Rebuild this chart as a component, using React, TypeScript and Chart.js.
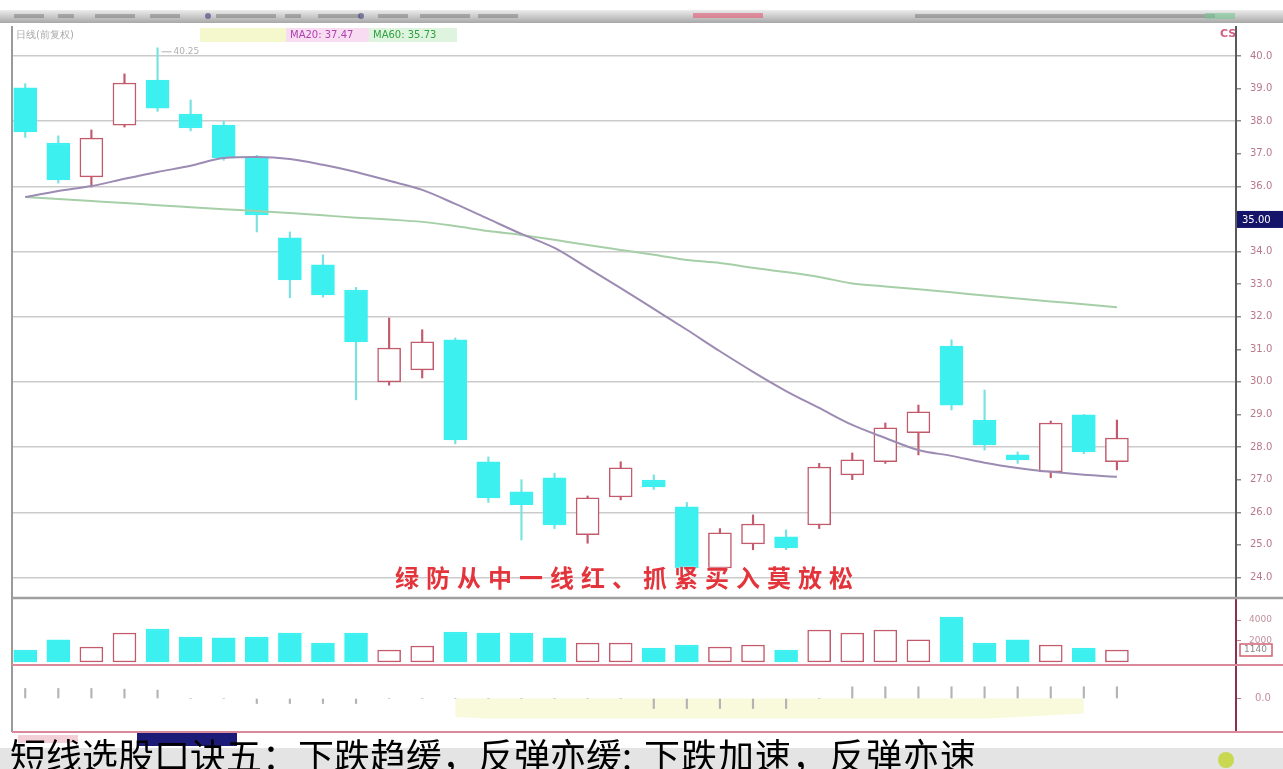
import React, { useEffect, useRef } from "react";
import { Chart, registerables } from "chart.js";

Chart.register(...registerables);

// ---- data ----
const OPEN = [39.02, 37.33, 36.29, 37.88, 39.26, 38.22, 37.88, 36.90, 34.42, 33.59, 32.82, 30.00, 30.37, 31.29, 27.55, 26.63, 27.06, 25.31, 26.47, 26.99, 26.17, 24.29, 25.03, 25.25, 25.61, 27.15, 27.55, 28.44, 31.10, 28.83, 27.76, 27.24, 28.99, 27.55];
const CLOSE = [37.67, 36.20, 37.48, 39.17, 38.40, 37.79, 36.87, 35.12, 33.13, 32.67, 31.23, 31.04, 31.23, 28.22, 26.44, 26.23, 25.61, 26.44, 27.36, 26.78, 24.29, 25.37, 25.64, 24.91, 27.39, 27.61, 28.59, 29.08, 29.29, 28.07, 27.61, 28.74, 27.85, 28.28];
const HIGH = [39.15, 37.55, 37.73, 39.45, 40.25, 38.65, 38.00, 36.95, 34.60, 33.90, 32.90, 31.96, 31.60, 31.35, 27.70, 27.00, 27.20, 26.50, 27.55, 27.15, 26.30, 25.50, 25.92, 25.46, 27.50, 27.82, 28.74, 29.29, 31.29, 29.75, 27.85, 28.80, 29.00, 28.83];
const LOW = [37.50, 36.10, 35.98, 37.82, 38.30, 37.70, 36.80, 34.60, 32.58, 32.60, 29.45, 29.90, 30.12, 28.10, 26.30, 25.15, 25.50, 25.05, 26.38, 26.70, 24.08, 24.20, 24.85, 24.85, 25.50, 27.00, 27.50, 27.76, 29.14, 27.91, 27.50, 27.06, 27.80, 27.30];
const VOLUME = [1140, 2100, 1430, 2760, 3140, 2380, 2290, 2380, 2760, 1810, 2760, 1140, 1520, 2860, 2760, 2760, 2290, 1810, 1810, 1330, 1620, 1430, 1620, 1140, 3050, 2760, 3050, 2100, 4290, 1810, 2100, 1620, 1330, 1140];
const MA_SHORT = [35.67, 35.86, 36.01, 36.23, 36.44, 36.63, 36.87, 36.90, 36.84, 36.66, 36.44, 36.17, 35.89, 35.46, 35.00, 34.54, 34.11, 33.50, 32.88, 32.24, 31.60, 30.94, 30.31, 29.72, 29.20, 28.68, 28.28, 27.91, 27.73, 27.52, 27.36, 27.24, 27.15, 27.09];
const MA_LONG = [35.67, 35.61, 35.55, 35.49, 35.42, 35.36, 35.30, 35.24, 35.18, 35.11, 35.04, 34.98, 34.91, 34.78, 34.63, 34.51, 34.36, 34.20, 34.05, 33.90, 33.74, 33.65, 33.50, 33.37, 33.22, 33.02, 32.93, 32.84, 32.75, 32.65, 32.56, 32.47, 32.38, 32.29];
const INDICATOR = [0.3, 0.3, 0.3, 0.28, 0.25, 0, 0, -0.15, -0.15, -0.15, -0.15, 0, 0, 0, 0, 0, 0, 0, 0, -0.3, -0.3, -0.3, -0.3, -0.3, 0, 0.35, 0.35, 0.35, 0.35, 0.35, 0.35, 0.35, 0.35, 0.35];
const INDICATOR_BAND = [null, null, null, null, null, null, null, null, null, null, null, null, null, -0.55, -0.6, -0.6, -0.6, -0.6, -0.6, -0.6, -0.6, -0.6, -0.6, -0.6, -0.6, -0.6, -0.6, -0.6, -0.6, -0.6, -0.55, -0.5, -0.45, null];
const PRICE_TICKS = [24, 25, 26, 27, 28, 29, 30, 31, 32, 33, 34, 35, 36, 37, 38, 39, 40];
const VOLUME_TICKS = [2000, 4000];
const INDICATOR_TICKS = [0];
const LEGEND_MA20 = "MA20: 37.47";
const LEGEND_MA60 = "MA60: 35.73";
const HEADER_TITLE = "日线(前复权)";
const CURSOR_PRICE = 35;
const ANNOTATION = "绿防从中一线红、抓紧买入莫放松";
const CAPTION_A = "短线选股口诀五：下跌趋缓，反弹亦缓";
const CAPTION_SEP = ":";
const CAPTION_B = "下跌加速，反弹亦速";

const IDX = OPEN.map((_, i) => i);
const UP_EDGE = "#c25a6c";
const DOWN_FILL = "#3df0f0";
const isUp = (i: number) => CLOSE[i] >= OPEN[i];

const decor = {
  id: "decor",
  beforeDraw(chart: any) {
    const { ctx, width } = chart;
    ctx.save();
    ctx.fillStyle = "#ffffff";
    ctx.fillRect(0, 0, width, chart.height);
    // toolbar strip
    const g = ctx.createLinearGradient(0, 10, 0, 23);
    g.addColorStop(0, "#ececec");
    g.addColorStop(1, "#a8a8a8");
    ctx.fillStyle = g;
    ctx.fillRect(0, 10, width, 13);
    ctx.fillStyle = "rgba(80,80,80,0.35)";
    const items = [[14, 30], [58, 16], [95, 40], [150, 30], [216, 60], [285, 16], [318, 42], [378, 30], [420, 50], [478, 40], [915, 300]];
    items.forEach(([x, w]) => ctx.fillRect(x, 14, w, 4));
    ctx.fillStyle = "rgba(60,60,120,0.6)";
    ctx.beginPath(); ctx.arc(208, 16, 3, 0, Math.PI * 2); ctx.fill();
    ctx.beginPath(); ctx.arc(361, 16, 3, 0, Math.PI * 2); ctx.fill();
    ctx.fillStyle = "rgba(230,80,110,0.55)";
    ctx.fillRect(693, 13, 70, 5);
    ctx.fillStyle = "rgba(120,200,150,0.6)";
    ctx.fillRect(1205, 13, 30, 6);
    // header row
    ctx.font = "10px 'DejaVu Sans'";
    ctx.textBaseline = "middle";
    ctx.fillStyle = "#a8a8a8";
    ctx.fillText(HEADER_TITLE, 16, 35);
    ctx.fillStyle = "#f5f7cc";
    ctx.fillRect(200, 28, 86, 14);
    ctx.fillStyle = "#f7dcf2";
    ctx.fillRect(286, 28, 83, 14);
    ctx.fillStyle = "#def4de";
    ctx.fillRect(369, 28, 88, 14);
    ctx.fillStyle = "#b040b0";
    ctx.fillText(LEGEND_MA20, 290, 35);
    ctx.fillStyle = "#30a040";
    ctx.fillText(LEGEND_MA60, 373, 35);
    ctx.fillStyle = "#d06080";
    ctx.font = "bold 11px 'DejaVu Sans'";
    ctx.fillText("CS", 1220, 34);
    ctx.restore();
  },
  afterDraw(chart: any) {
    const { ctx, chartArea, width } = chart;
    const x = chart.scales.x;
    const y = chart.scales.y;
    const yv = chart.scales.yv;
    const yi = chart.scales.yi;
    ctx.save();
    // frame lines
    ctx.strokeStyle = "#9a9a9a";
    ctx.lineWidth = 2;
    ctx.beginPath();
    ctx.moveTo(chartArea.left, 26);
    ctx.lineTo(chartArea.left, yi.bottom);
    ctx.stroke();
    ctx.strokeStyle = "#5a5a5a";
    ctx.beginPath();
    ctx.moveTo(chartArea.right, 26);
    ctx.lineTo(chartArea.right, chartArea.top);
    ctx.stroke();
    ctx.strokeStyle = "#a0a0a0";
    ctx.lineWidth = 2.5;
    ctx.beginPath();
    ctx.moveTo(chartArea.left, yv.top);
    ctx.lineTo(width, yv.top);
    ctx.stroke();
    ctx.strokeStyle = "#d9899a";
    ctx.lineWidth = 2;
    ctx.beginPath();
    ctx.moveTo(chartArea.left, yi.top);
    ctx.lineTo(width, yi.top);
    ctx.moveTo(chartArea.left, yi.bottom);
    ctx.lineTo(width, yi.bottom);
    ctx.stroke();
    // high-price marker on highest candle
    let hi = 0;
    HIGH.forEach((v, i) => { if (v > HIGH[hi]) hi = i; });
    const hx = x.getPixelForValue(hi);
    const hy = y.getPixelForValue(HIGH[hi]);
    ctx.strokeStyle = "#b0b0b0";
    ctx.lineWidth = 1;
    ctx.beginPath();
    ctx.moveTo(hx + 4, hy + 4);
    ctx.lineTo(hx + 14, hy + 4);
    ctx.stroke();
    ctx.fillStyle = "#b0b0b0";
    ctx.font = "9px 'DejaVu Sans'";
    ctx.textBaseline = "middle";
    ctx.fillText(HIGH[hi].toFixed(2), hx + 16, hy + 4);
    // cursor price box
    const cy = y.getPixelForValue(CURSOR_PRICE);
    ctx.fillStyle = "#14146a";
    ctx.fillRect(chartArea.right + 1, cy - 8, width - chartArea.right - 1, 17);
    ctx.fillStyle = "#ffffff";
    ctx.font = "10px 'DejaVu Sans'";
    ctx.fillText(CURSOR_PRICE.toFixed(2), chartArea.right + 6, cy + 1);
    // last volume box
    const lv = VOLUME[VOLUME.length - 1];
    const vy = yv.getPixelForValue(lv);
    ctx.fillStyle = "#ffffff";
    ctx.fillRect(chartArea.right + 4, vy - 6, 32, 12);
    ctx.strokeStyle = "#d06070";
    ctx.lineWidth = 1.5;
    ctx.strokeRect(chartArea.right + 4, vy - 6, 32, 12);
    ctx.fillStyle = "#888";
    ctx.font = "9px 'DejaVu Sans'";
    ctx.fillText(String(lv), chartArea.right + 8, vy);
    // bottom status row
    ctx.fillStyle = "#1c1c78";
    ctx.fillRect(137, yi.bottom + 1, 100, 13);
    ctx.fillStyle = "rgba(220,120,140,0.35)";
    ctx.fillRect(18, yi.bottom + 3, 60, 8);
    ctx.fillStyle = "#e4e4e4";
    ctx.fillRect(0, yi.bottom + 16, width, 40);
    ctx.fillStyle = "#c8d850";
    ctx.beginPath(); ctx.arc(1226, 760, 8, 0, Math.PI * 2); ctx.fill();
    ctx.restore();
  },
};

export default function App() {
  const ref = useRef<HTMLCanvasElement | null>(null);

  useEffect(() => {
    const canvas = ref.current;
    if (!canvas) return;
    const rightAxis = (s: any) => { s.width = 47; };
    const tickFont = { size: 10, family: "'DejaVu Sans'" };
    const chart = new Chart(canvas, {
      type: "bar",
      data: {
        datasets: [
          {
            type: "line",
            label: "MA20",
            data: IDX.map((i) => ({ x: i, y: MA_SHORT[i] })),
            yAxisID: "y",
            borderColor: "#9c8bb2",
            borderWidth: 2,
            pointRadius: 0,
            cubicInterpolationMode: "monotone",
            order: 0,
          } as any,
          {
            type: "line",
            label: "MA60",
            data: IDX.map((i) => ({ x: i, y: MA_LONG[i] })),
            yAxisID: "y",
            borderColor: "#a6cfa8",
            borderWidth: 2,
            pointRadius: 0,
            cubicInterpolationMode: "monotone",
            order: 0,
          } as any,
          {
            label: "body",
            data: IDX.map((i) => ({ x: i, y: [OPEN[i], CLOSE[i]] })),
            yAxisID: "y",
            backgroundColor: IDX.map((i) => (isUp(i) ? "#ffffff" : DOWN_FILL)),
            borderColor: IDX.map((i) => (isUp(i) ? UP_EDGE : DOWN_FILL)),
            borderWidth: 1.5,
            borderSkipped: false,
            barThickness: 23,
            grouped: false,
            order: 1,
          } as any,
          {
            label: "wick",
            data: IDX.map((i) => ({ x: i, y: [LOW[i], HIGH[i]] })),
            yAxisID: "y",
            backgroundColor: IDX.map((i) => (isUp(i) ? UP_EDGE : "#78e2e2")),
            borderWidth: 0,
            barThickness: 1.5,
            grouped: false,
            order: 2,
          } as any,
          {
            label: "volume",
            data: IDX.map((i) => ({ x: i, y: VOLUME[i] })),
            yAxisID: "yv",
            backgroundColor: IDX.map((i) => (isUp(i) ? "#ffffff" : DOWN_FILL)),
            borderColor: IDX.map((i) => (isUp(i) ? UP_EDGE : DOWN_FILL)),
            borderWidth: 1.5,
            borderSkipped: false,
            barThickness: 23,
            grouped: false,
            order: 1,
          } as any,
          {
            type: "line",
            label: "band",
            data: IDX.map((i) => ({ x: i, y: INDICATOR_BAND[i] })),
            yAxisID: "yi",
            borderWidth: 0,
            borderColor: "rgba(0,0,0,0)",
            backgroundColor: "rgba(247,247,205,0.7)",
            fill: "origin",
            pointRadius: 0,
            order: 3,
          } as any,
          {
            label: "indicator",
            data: IDX.map((i) => ({ x: i, y: INDICATOR[i] })),
            yAxisID: "yi",
            backgroundColor: "#b4b4b4",
            barThickness: 1.5,
            grouped: false,
            order: 1,
          } as any,
        ],
      },
      options: {
        animation: false,
        responsive: false,
        devicePixelRatio: 1,
        layout: { padding: { top: 40, left: 12, right: 0, bottom: 37 } },
        plugins: { legend: { display: false }, tooltip: { enabled: false } },
        scales: {
          x: { type: "linear", min: -0.4, max: 36.6, display: false, offset: false },
          y: {
            type: "linear",
            position: "right",
            stack: "panels",
            stackWeight: 558,
            min: 23.37,
            max: 40.49,
            afterBuildTicks: (s: any) => { s.ticks = PRICE_TICKS.map((v) => ({ value: v })); },
            afterFit: rightAxis,
            grid: {
              color: (c: any) => (c.tick && c.tick.value % 2 === 0 ? "#cbcbcb" : "rgba(0,0,0,0)"),
              lineWidth: 1.5,
              tickColor: "#8a8a8a",
              tickLength: 5,
            },
            border: { color: "#5a5a5a", width: 2 },
            ticks: { color: "#b8788a", font: tickFont, padding: 9, autoSkip: false, callback: (v: any) => Number(v).toFixed(1) },
          } as any,
          yv: {
            type: "linear",
            position: "right",
            stack: "panels",
            stackWeight: 67,
            min: -290,
            max: 6100,
            afterBuildTicks: (s: any) => { s.ticks = VOLUME_TICKS.map((v) => ({ value: v })); },
            afterFit: rightAxis,
            grid: { color: "rgba(0,0,0,0)", tickColor: "#c08090", tickLength: 5 },
            border: { color: "#8a3050", width: 2 },
            ticks: { color: "#c0909c", font: { size: 9, family: "'DejaVu Sans'" }, padding: 8, autoSkip: false, callback: (v: any) => String(v) },
          } as any,
          yi: {
            type: "linear",
            position: "right",
            stack: "panels",
            stackWeight: 67,
            min: -1,
            max: 1,
            afterBuildTicks: (s: any) => { s.ticks = INDICATOR_TICKS.map((v) => ({ value: v })); },
            afterFit: rightAxis,
            grid: { color: "rgba(0,0,0,0)", tickColor: "#c08090", tickLength: 5 },
            border: { color: "#8a3050", width: 2 },
            ticks: { color: "#c0909c", font: tickFont, padding: 14, autoSkip: false, callback: (v: any) => Number(v).toFixed(1) },
          } as any,
        },
      } as any,
      plugins: [decor],
    });
    return () => chart.destroy();
  }, []);

  return (
    <div style={{ position: "absolute", left: 0, top: 0, width: 1283, height: 769, overflow: "hidden", background: "#fff" }}>
      <canvas ref={ref} width={1283} height={769} style={{ display: "block", width: 1283, height: 769 }} />
      <div
        style={{
          position: "absolute",
          left: 395,
          top: 565,
          fontFamily: "'Noto Sans CJK SC'",
          fontWeight: 700,
          fontSize: 24,
          lineHeight: "24px",
          letterSpacing: 7,
          color: "#e3343c",
          whiteSpace: "nowrap",
          textShadow: "0 0 2px #fff",
        }}
      >
        {ANNOTATION}
      </div>
      <div
        style={{
          position: "absolute",
          left: 10,
          top: 736,
          fontFamily: "'Noto Sans CJK SC'",
          fontSize: 36,
          lineHeight: "36px",
          color: "#000",
          whiteSpace: "nowrap",
        }}
      >
        {CAPTION_A}
        <span style={{ letterSpacing: 12 }}>{CAPTION_SEP}</span>
        <span style={{ letterSpacing: 1 }}>{CAPTION_B}</span>
      </div>
    </div>
  );
}
